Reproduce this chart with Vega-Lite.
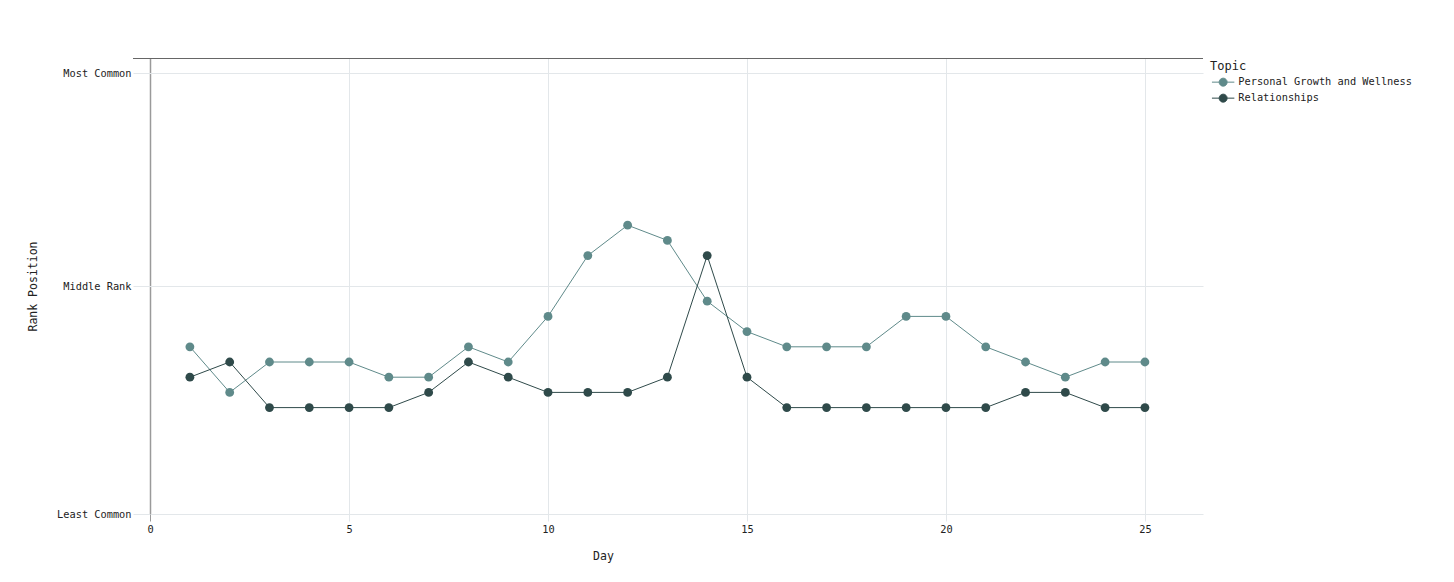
{
  "$schema": "https://vega.github.io/schema/vega-lite/v6.json",
  "width": 1070,
  "height": 456,
  "autosize": {"type": "none"},
  "padding": {"left": 133, "top": 58, "right": 251, "bottom": 68},
  "background": "white",
  "config": {
    "view": {"stroke": null},
    "font": "DejaVu Sans Mono",
    "axis": {"labelFont": "DejaVu Sans Mono", "titleFont": "DejaVu Sans Mono", "labelColor": "#222", "titleColor": "#222", "titleFontWeight": "normal"},
    "legend": {"labelFont": "DejaVu Sans Mono", "titleFont": "DejaVu Sans Mono"}
  },
  "data": {"values": [
    {"day": 1, "topic": "Personal Growth and Wellness", "rank": 19},
    {"day": 2, "topic": "Personal Growth and Wellness", "rank": 22},
    {"day": 3, "topic": "Personal Growth and Wellness", "rank": 20},
    {"day": 4, "topic": "Personal Growth and Wellness", "rank": 20},
    {"day": 5, "topic": "Personal Growth and Wellness", "rank": 20},
    {"day": 6, "topic": "Personal Growth and Wellness", "rank": 21},
    {"day": 7, "topic": "Personal Growth and Wellness", "rank": 21},
    {"day": 8, "topic": "Personal Growth and Wellness", "rank": 19},
    {"day": 9, "topic": "Personal Growth and Wellness", "rank": 20},
    {"day": 10, "topic": "Personal Growth and Wellness", "rank": 17},
    {"day": 11, "topic": "Personal Growth and Wellness", "rank": 13},
    {"day": 12, "topic": "Personal Growth and Wellness", "rank": 11},
    {"day": 13, "topic": "Personal Growth and Wellness", "rank": 12},
    {"day": 14, "topic": "Personal Growth and Wellness", "rank": 16},
    {"day": 15, "topic": "Personal Growth and Wellness", "rank": 18},
    {"day": 16, "topic": "Personal Growth and Wellness", "rank": 19},
    {"day": 17, "topic": "Personal Growth and Wellness", "rank": 19},
    {"day": 18, "topic": "Personal Growth and Wellness", "rank": 19},
    {"day": 19, "topic": "Personal Growth and Wellness", "rank": 17},
    {"day": 20, "topic": "Personal Growth and Wellness", "rank": 17},
    {"day": 21, "topic": "Personal Growth and Wellness", "rank": 19},
    {"day": 22, "topic": "Personal Growth and Wellness", "rank": 20},
    {"day": 23, "topic": "Personal Growth and Wellness", "rank": 21},
    {"day": 24, "topic": "Personal Growth and Wellness", "rank": 20},
    {"day": 25, "topic": "Personal Growth and Wellness", "rank": 20},
    {"day": 1, "topic": "Relationships", "rank": 21},
    {"day": 2, "topic": "Relationships", "rank": 20},
    {"day": 3, "topic": "Relationships", "rank": 23},
    {"day": 4, "topic": "Relationships", "rank": 23},
    {"day": 5, "topic": "Relationships", "rank": 23},
    {"day": 6, "topic": "Relationships", "rank": 23},
    {"day": 7, "topic": "Relationships", "rank": 22},
    {"day": 8, "topic": "Relationships", "rank": 20},
    {"day": 9, "topic": "Relationships", "rank": 21},
    {"day": 10, "topic": "Relationships", "rank": 22},
    {"day": 11, "topic": "Relationships", "rank": 22},
    {"day": 12, "topic": "Relationships", "rank": 22},
    {"day": 13, "topic": "Relationships", "rank": 21},
    {"day": 14, "topic": "Relationships", "rank": 13},
    {"day": 15, "topic": "Relationships", "rank": 21},
    {"day": 16, "topic": "Relationships", "rank": 23},
    {"day": 17, "topic": "Relationships", "rank": 23},
    {"day": 18, "topic": "Relationships", "rank": 23},
    {"day": 19, "topic": "Relationships", "rank": 23},
    {"day": 20, "topic": "Relationships", "rank": 23},
    {"day": 21, "topic": "Relationships", "rank": 23},
    {"day": 22, "topic": "Relationships", "rank": 22},
    {"day": 23, "topic": "Relationships", "rank": 22},
    {"day": 24, "topic": "Relationships", "rank": 23},
    {"day": 25, "topic": "Relationships", "rank": 23}
  ]},
  "encoding": {
    "x": {
      "field": "day", "type": "quantitative",
      "scale": {"domain": [-0.43, 26.46], "nice": false, "zero": false},
      "axis": {
        "title": "Day", "values": [0, 5, 10, 15, 20, 25],
        "domain": false,
        "grid": true,
        "gridColor": {"condition": {"test": "datum.value === 0", "value": "#9a9a9a"}, "value": "#e3e7ea"},
        "gridWidth": {"condition": {"test": "datum.value === 0", "value": 1.5}, "value": 1},
        "tickColor": {"condition": {"test": "datum.value === 0", "value": "#9a9a9a"}, "value": "#e3e7ea"},
        "tickSize": 7,
        "labelFontSize": 10.3, "labelPadding": 3,
        "titleFontSize": 11.5, "titleX": 470, "titleY": 42, "titleBaseline": "middle"
      }
    },
    "y": {
      "field": "rank", "type": "quantitative",
      "scale": {"domain": [0, 30], "reverse": true, "nice": false, "zero": false},
      "axis": {
        "title": "Rank Position", "values": [1, 15, 30],
        "labelExpr": "datum.value === 1 ? 'Most Common' : datum.value === 15 ? 'Middle Rank' : 'Least Common'",
        "domain": false, "ticks": false, "grid": true, "gridColor": "#e3e7ea",
        "labelFontSize": 10.3, "labelPadding": 2,
        "titleFontSize": 11.5, "titleX": -100, "titleY": 228, "titleAlign": "center", "titleBaseline": "middle", "titleAngle": -90
      }
    }
  },
  "layer": [
    {
      "mark": {"type": "rule", "color": "#666", "strokeWidth": 1, "yOffset": 0.5},
      "encoding": {"y": {"datum": 0}, "x": null}
    },
    {
      "mark": {"type": "line", "strokeWidth": 1},
      "encoding": {
        "color": {
          "field": "topic", "type": "nominal", "title": "Topic",
          "scale": {"domain": ["Personal Growth and Wellness", "Relationships"], "range": ["#5f8a8a", "#2f4a4a"]}
        }
      }
    },
    {
      "mark": {"type": "point", "filled": true, "opacity": 1, "size": 78},
      "encoding": {
        "color": {
          "field": "topic", "type": "nominal", "title": "Topic",
          "scale": {"domain": ["Personal Growth and Wellness", "Relationships"], "range": ["#5f8a8a", "#2f4a4a"]},
          "legend": {
            "orient": "none", "legendX": 1077, "legendY": 3,
            "titleFontSize": 12, "titleFontWeight": "normal", "titleColor": "#222", "titlePadding": 4,
            "labelFontSize": 10.3, "labelColor": "#222", "labelLimit": 0,
            "symbolType": "M-2.8,0H-1M1,0H2.8M1,0A1,1 0 1,1 -1,0A1,1 0 1,1 1,0Z",
            "symbolSize": 64, "symbolOffset": 8, "labelOffset": 10, "rowPadding": 3,
            "symbolStrokeWidth": 1, "symbolOpacity": 1,
            "encode": {"symbols": {"update": {"stroke": {"scale": "color", "field": "value"}, "fill": {"scale": "color", "field": "value"}, "strokeWidth": {"value": 1}, "opacity": {"value": 1}}}}
          }
        }
      }
    }
  ]
}
